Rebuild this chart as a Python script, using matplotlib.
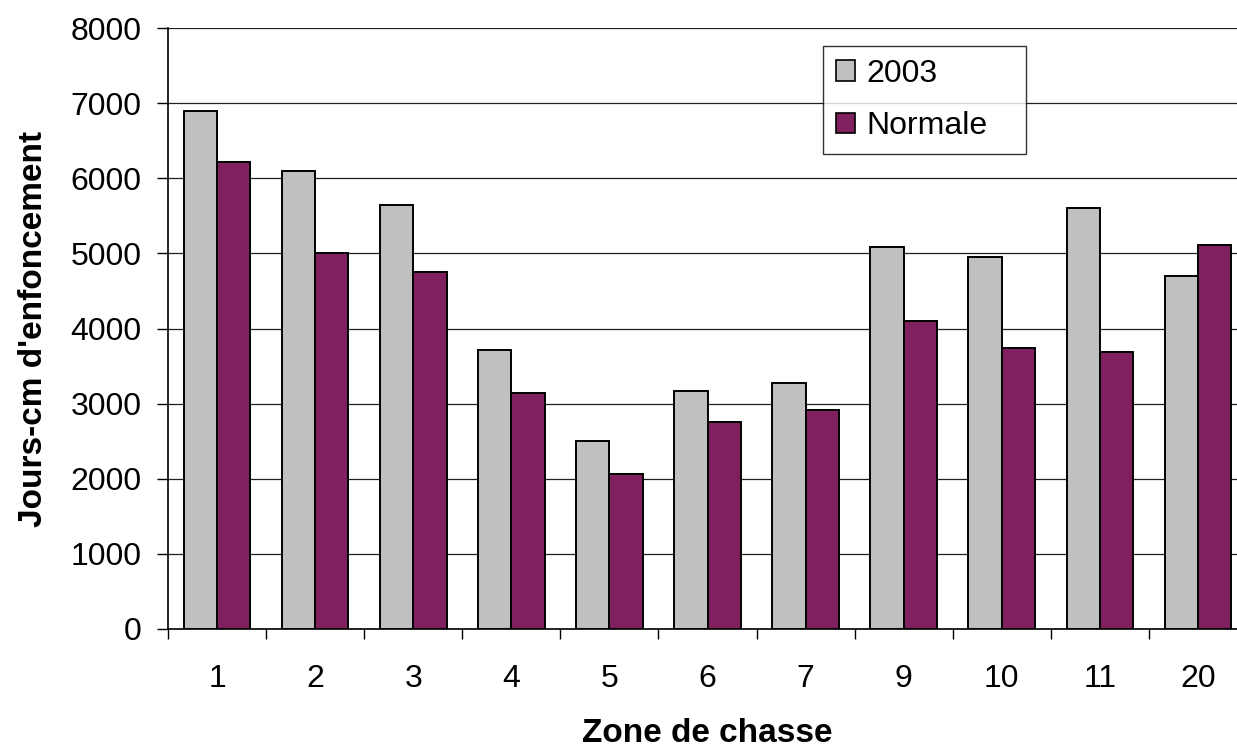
import numpy as np
import matplotlib.pyplot as plt

plt.rcParams['font.family'] = ['Liberation Sans', 'DejaVu Sans']

zones = ['1', '2', '3', '4', '5', '6', '7', '9', '10', '11', '20']
val_2003 = [6900, 6100, 5650, 3710, 2500, 3170, 3280, 5090, 4950, 5610, 4700]
val_normale = [6210, 5000, 4750, 3140, 2060, 2750, 2920, 4100, 3740, 3690, 5115]

W, H = 1237, 748
fig = plt.figure(figsize=(W / 100, H / 100), dpi=100)
ax = fig.add_axes([168 / W, 1 - 629 / H, 1079 / W, 601 / H])

x = np.arange(len(zones))
w = 0.34
ax.bar(x - w / 2, val_2003, w, color='#C0C0C0', edgecolor='black', linewidth=1.4,
       label='2003', zorder=3)
ax.bar(x + w / 2, val_normale, w, color='#80205F', edgecolor='black', linewidth=1.4,
       label='Normale', zorder=3)

ax.set_xlim(-0.5, len(zones) - 0.5)
ax.set_ylim(0, 8000)
ax.set_yticks(np.arange(0, 8001, 1000))
ax.yaxis.grid(True, color='#202020', linewidth=0.9, zorder=0)

# ticks entre les catégories, libellés au centre
ax.set_xticks(np.arange(len(zones) + 1) - 0.5)
ax.set_xticklabels([])
ax.set_xticks(x, minor=True)
ax.set_xticklabels(zones, minor=True)
ax.tick_params(axis='x', which='major', length=7, width=1, direction='out')
ax.tick_params(axis='x', which='minor', length=0, pad=25, labelsize=23)
ax.tick_params(axis='y', length=8, width=1, direction='out', pad=11, labelsize=23)

for s in ['top', 'right']:
    ax.spines[s].set_visible(False)
ax.spines['left'].set_linewidth(1.2)
ax.spines['bottom'].set_linewidth(1.2)

fig.text(707 / W, 1 - 742 / H, 'Zone de chasse', fontsize=24, fontweight='bold',
         ha='center', va='baseline')
fig.text(42 / W, 1 - 329 / H, "Jours-cm d'enfoncement", fontsize=24, fontweight='bold',
         ha='center', va='baseline', rotation=90, rotation_mode='anchor')

lx0, ly0 = (823 - 168) / 1079, (629 - 154) / 601
leg = ax.legend(loc='lower left', bbox_to_anchor=(lx0, ly0, 203 / 1079, 109 / 601),
                mode='expand', fontsize=23, frameon=True, fancybox=False,
                edgecolor='black', handlelength=0.6, handleheight=0.6,
                handletextpad=0.35, borderpad=0.4, labelspacing=0.7,
                borderaxespad=0)
leg.get_frame().set_linewidth(1)
for hd in leg.legend_handles:
    hd.set_linewidth(1.2)

fig.savefig('out.png', dpi=100)
